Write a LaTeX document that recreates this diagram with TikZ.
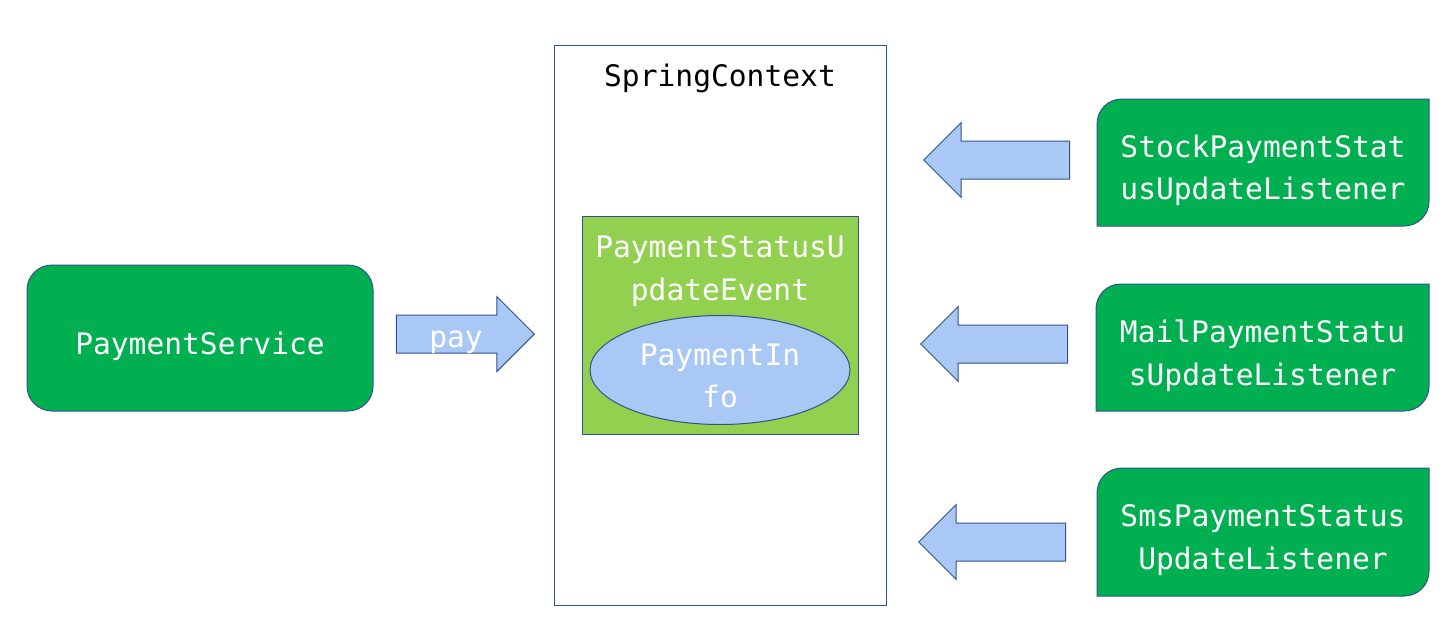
\documentclass[tikz,border=0pt]{standalone}
\usepackage{fontspec}
\newfontfamily\dmono{DejaVu Sans Mono}
\usetikzlibrary{shapes.geometric,shapes.arrows}
\definecolor{dgreen}{HTML}{00B050}
\definecolor{lgreen}{HTML}{92D050}
\definecolor{lblue}{HTML}{AAC8F6}
\definecolor{bordc}{HTML}{2F528F}
\newcommand\listenerbox[6]{%
  \draw[boxline, fill=dgreen] (#2,#5) -- (#2,#3+25) .. controls (#2,#3+11) and (#2+11,#3) .. (#2+25,#3)
    -- (#4,#3) -- (#4,#5-25) .. controls (#4,#5-11) and (#4-11,#5) .. (#4-25,#5) -- cycle;
  \node[wtext] (#1) at ({(#2+#4)/2},{(#3+#5)/2+8}) {#6};%
}
\begin{document}
\begin{tikzpicture}[x=1pt,y=-1pt,
  boxline/.style={draw=bordc, line width=1pt},
  basetext/.style={font=\fontsize{29.6pt}{42.5pt}\selectfont\dmono, inner sep=0pt, align=center},
  wtext/.style={basetext, text=white},
  btext/.style={basetext, text=black},
  blockarrow/.style={single arrow, boxline, fill=lblue, inner xsep=0pt, inner ysep=18.5pt,
    single arrow head extend=18.5pt, single arrow tip angle=90, anchor=tip}
]
\useasboundingbox (0,0) rectangle (1453,641);

% Spring context container
\draw[boxline, fill=white] (554,45) rectangle (886,605);
\node[btext] (ctx) at (720,78) {SpringContext};

% event box
\draw[boxline, fill=lgreen] (582,216) rectangle (858,434);
\node[wtext] (event) at (720,271) {PaymentStatusU\\pdateEvent};
\draw[boxline, fill=lblue] (720,370) ellipse [x radius=130, y radius=54.5];
\node[wtext] (info) at (720,376) {PaymentIn\\fo};

% Payment service
\draw[boxline, fill=dgreen, rounded corners=25pt] (27,265) rectangle (373,411);
\node[wtext] (service) at (200,346) {PaymentService};

% pay arrow
\node[blockarrow, minimum height=138pt] (payarrow) at (535,334) {};
\node[wtext] (paylabel) at (456,342) {pay};

% listener arrows
\node[blockarrow, minimum height=146pt, shape border rotate=180] (stockarrow) at (923,160) {};
\node[blockarrow, minimum height=147pt, shape border rotate=180] (mailarrow) at (920,344) {};
\node[blockarrow, minimum height=147pt, shape border rotate=180] (smsarrow) at (918,542) {};

% listeners
\listenerbox{stock}{1097}{99}{1429}{226}{StockPaymentStat\\usUpdateListener}
\listenerbox{mail}{1096}{284}{1429}{411}{MailPaymentStatu\\sUpdateListener}
\listenerbox{sms}{1097}{468}{1429}{596}{SmsPaymentStatus\\UpdateListener}
\end{tikzpicture}
\end{document}
